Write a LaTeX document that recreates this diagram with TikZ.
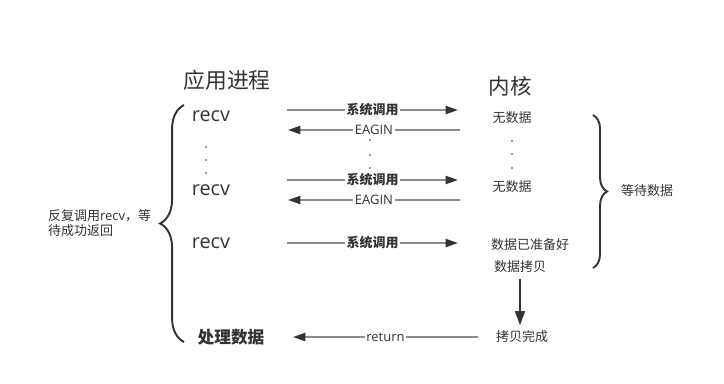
\documentclass[tikz,border=0pt]{standalone}
\usepackage{fontspec}
\setmainfont{Open Sans}
\newfontfamily\cjk{Noto Sans CJK SC}
\usetikzlibrary{decorations.pathreplacing, arrows.meta, calc}

\begin{document}
\begin{tikzpicture}[x=0.02cm, y=-0.02cm,
		txt/.style={text=black!80, inner sep=1pt},
		small/.style={txt, font=\fontsize{7.4}{9}\selectfont\cjk},
		lbl/.style={txt, fill=white, font=\fontsize{7.4}{9}\selectfont},
		call/.style={draw=black!45, line width=1pt, -{Triangle[length=7pt, width=4.6pt, color=black!80]}},
		down/.style={draw=black!80, line width=1.1pt, -{Triangle[length=8pt, width=5.6pt]}},
		brc/.style={draw=black!80, line width=1.1pt, decorate, decoration={brace, amplitude=#1}}]
		\useasboundingbox (0,0) rectangle (724,383);
		% titles
		\node[txt, font=\fontsize{12.4}{14}\selectfont\cjk] (app) at (227,80) {应用进程};
		\node[txt, font=\fontsize{12.2}{14}\selectfont\cjk] (kernel) at (510,86) {内核};
		% application side
		\foreach \y/\n in {116/A,190/B,243/C}
			\node[txt, font=\fontsize{11.3}{13}\selectfont] (recv\n) at (211,\y) {recv};
		\node[txt, font=\fontsize{9.5}{11}\selectfont\cjk\bfseries] (handle) at (231,337) {处理数据};
		\foreach \y in {147,160,173}
			\fill[black!80] (206,\y) circle (0.45pt);
		% kernel side
		\node[small] (nodataA) at (512,118) {无数据};
		\node[small] (nodataB) at (512,187) {无数据};
		\node[small] (ready) at (530,245) {数据已准备好};
		\node[small] (copying) at (520,267) {数据拷贝};
		\node[small] (copied) at (522,337) {拷贝完成};
		\foreach \y in {141,154,168}
			\fill[black!80] (512,\y) circle (0.45pt);
		% system calls
		\foreach \y/\n in {110/A,180/B,243/C} {
			\coordinate (sys\n-s) at (287,\y);
			\coordinate (sys\n-e) at (458,\y);
			\draw[call] (sys\n-s) -- node[lbl, font=\fontsize{7.4}{9}\selectfont\cjk\bfseries] {系统调用} (sys\n-e);
		}
		% EAGIN replies
		\foreach \y/\n in {130/A,200/B} {
			\coordinate (err\n-s) at (460,\y);
			\coordinate (err\n-e) at (288,\y);
			\draw[call] (err\n-s) -- node[lbl] {EAGIN} (err\n-e);
		}
		\foreach \y in {140,155,168}
			\fill[black!80] (370,\y) circle (0.45pt);
		% copy and return
		\draw[down] ([yshift=-2pt]copying.south) -- ([yshift=2pt]copying.south |- copied.north);
		\coordinate (ret-s) at (478,337);
		\coordinate (ret-e) at (293,337);
		\draw[call] (ret-s) -- node[lbl] {return} (ret-e);
		% braces
		\draw[brc=13.6pt] (184,342) -- (184,105);
		\node[txt, anchor=west, align=left, font=\fontsize{7.4}{9}\selectfont] (retry) at (46,223)
			{{\cjk 反复调用}recv{\cjk ，等}\\{\cjk 待成功返回}};
		\draw[brc=8pt] (593,115) -- (593,268);
		\node[small, anchor=west] (wait) at (619,191) {等待数据};
	\end{tikzpicture}
\end{document}
